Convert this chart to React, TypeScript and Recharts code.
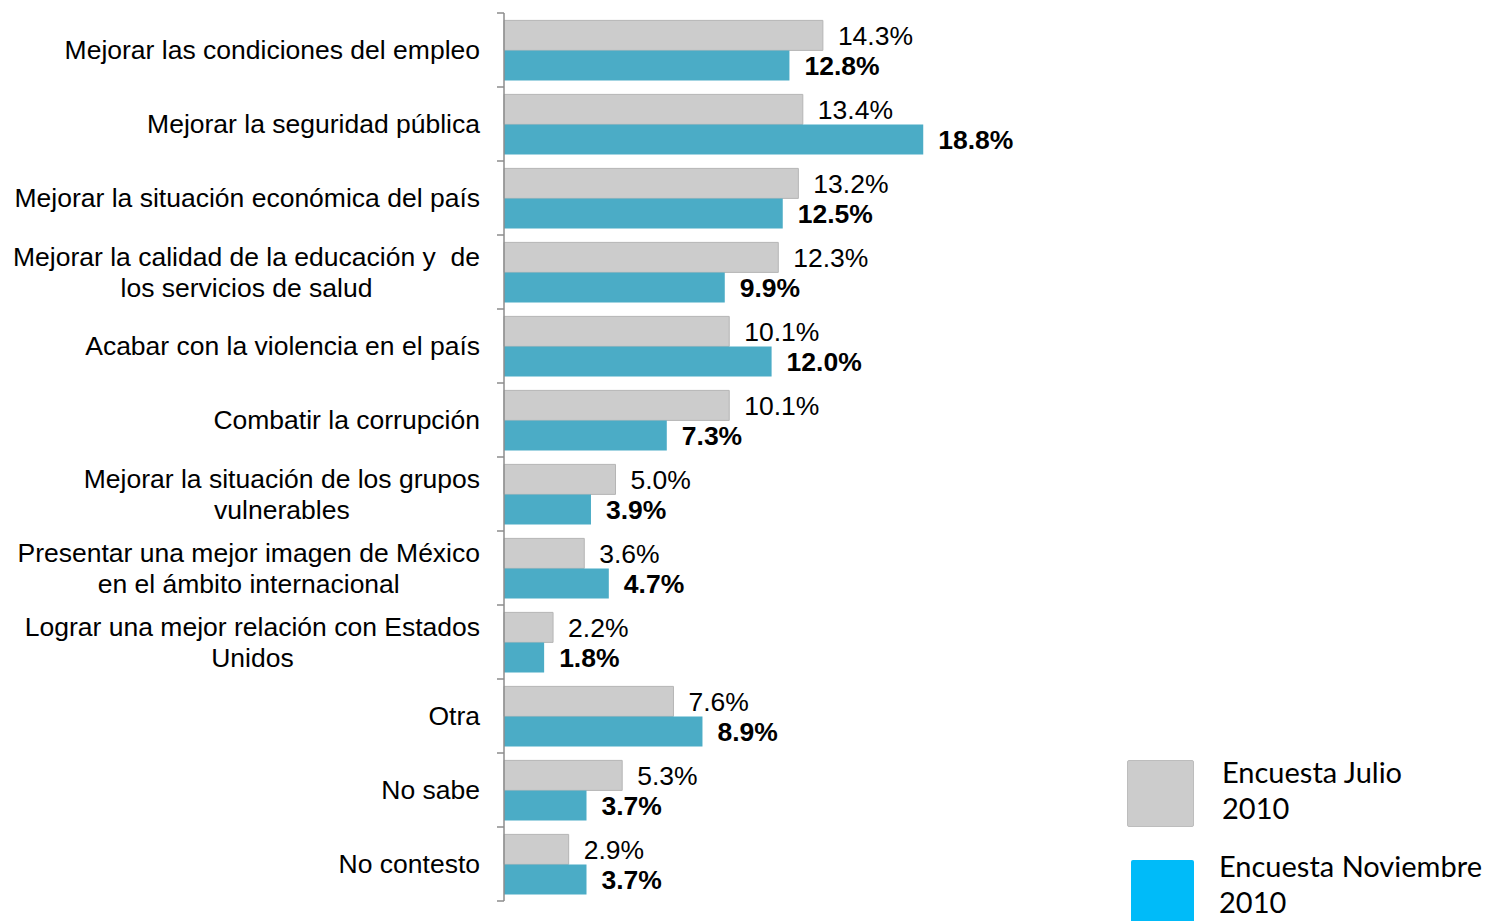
import React from "react";
import { BarChart, Bar, XAxis, YAxis, LabelList } from "recharts";

const categories = [
  "Mejorar las condiciones del empleo",
  "Mejorar la seguridad pública",
  "Mejorar la situación económica del país",
  "Mejorar la calidad de la educación y  de\nlos servicios de salud",
  "Acabar con la violencia en el país",
  "Combatir la corrupción",
  "Mejorar la situación de los grupos\nvulnerables",
  "Presentar una mejor imagen de México\nen el ámbito internacional",
  "Lograr una mejor relación con Estados\nUnidos",
  "Otra",
  "No sabe",
  "No contesto",
];
const julio = [14.3, 13.4, 13.2, 12.3, 10.1, 10.1, 5.0, 3.6, 2.2, 7.6, 5.3, 2.9];
const noviembre = [12.8, 18.8, 12.5, 9.9, 12.0, 7.3, 3.9, 4.7, 1.8, 8.9, 3.7, 3.7];
const legendLabels = ["Encuesta Julio", "Encuesta Noviembre"];

const data = categories.map((name, i) => ({
  name,
  julio: julio[i],
  noviembre: noviembre[i],
}));

const W = 1492;
const H = 921;
const TOP = 13;
const BOTTOM = 20;
const BAND = (H - TOP - BOTTOM) / categories.length;
const FS = 26.5;
const LABEL_FONT = `${FS}px "Liberation Sans", Arial, sans-serif`;

let ctx: CanvasRenderingContext2D | null = null;
function measure(s: string) {
  if (!ctx) ctx = document.createElement("canvas").getContext("2d");
  if (!ctx) return s.length * 13;
  ctx.font = LABEL_FONT;
  return ctx.measureText(s).width;
}

function CategoryTick(props: any) {
  const { x, y, payload, index } = props;
  const lines: string[] = String(payload.value).split("\n");
  const maxW = Math.max(...lines.map(measure));
  const cx = x - maxW / 2;
  const lh = 30.5;
  const y0 = y - ((lines.length - 1) * lh) / 2;
  const axisX = x + 24;
  return (
    <g>
      <line x1={axisX - 7} x2={axisX} y1={y - BAND / 2} y2={y - BAND / 2} stroke="#8c8c8c" strokeWidth={1.5} />
      {index === categories.length - 1 && (
        <line x1={axisX - 7} x2={axisX} y1={y + BAND / 2} y2={y + BAND / 2} stroke="#8c8c8c" strokeWidth={1.5} />
      )}
      {lines.map((l, i) => (
        <text
          key={i}
          x={lines.length > 1 ? cx : x}
          y={y0 + i * lh}
          dy="0.35em"
          textAnchor={lines.length > 1 ? "middle" : "end"}
          fontSize={FS}
          fill="#000"
          style={{ whiteSpace: "pre" }}
        >
          {l}
        </text>
      ))}
    </g>
  );
}

const pct = (v: any) => `${Number(v).toFixed(1)}%`;

function LegendBox() {
  const item = (color: string, border: string, label: string, top: number, left: number, sq: number, textTop: number) => (
    <div style={{ position: "absolute", top, left: 0, width: 370, height: 100 }}>
      <div
        style={{
          position: "absolute",
          left,
          top: 0,
          width: sq,
          height: 67,
          background: color,
          border,
          borderRadius: 2,
          boxSizing: "border-box",
        }}
      />
      <div
        style={{
          position: "absolute",
          left: left + (left === 0 ? 95 : 88),
          top: textTop,
          fontFamily: "Lato, 'Open Sans', sans-serif",
          fontSize: 29,
          lineHeight: "36px",
          color: "#000",
          whiteSpace: "nowrap",
        }}
      >
        {label}
        <br />
        2010
      </div>
    </div>
  );
  return (
    <div style={{ position: "absolute", left: 1127, top: 760, width: 370, height: 161 }}>
      {item("#CCCCCC", "1px solid #bdbdbd", legendLabels[0], 0, 0, 67, -6)}
      {item("#00BBF9", "none", legendLabels[1], 100, 4, 63, -12)}
    </div>
  );
}

export default function App() {
  return (
    <div style={{ position: "absolute", left: 0, top: 0, width: W, height: H, overflow: "hidden", background: "#fff", fontFamily: '"Liberation Sans", Arial, sans-serif' }}>
      <BarChart
        width={W}
        height={H}
        data={data}
        layout="vertical"
        margin={{ top: TOP, right: W - 504 - 446, bottom: BOTTOM, left: 0 }}
        barCategoryGap="10%"
        barGap={0}
      >
        <XAxis type="number" domain={[0, 20]} hide />
        <YAxis
          type="category"
          dataKey="name"
          width={504}
          axisLine={{ stroke: "#8c8c8c", strokeWidth: 1.5 }}
          tickLine={false}
          tickSize={7}
          tickMargin={17}
          tick={<CategoryTick />}
          interval={0}
        />
        <Bar dataKey="julio" name="Encuesta Julio 2010" fill="#CCCCCC" stroke="#b5b5b5" strokeWidth={1} isAnimationActive={false}>
          <LabelList
            dataKey="julio"
            position="right"
            offset={15}
            formatter={pct}
            style={{ fontSize: FS, fill: "#000" }}
          />
        </Bar>
        <Bar dataKey="noviembre" name="Encuesta Noviembre 2010" fill="#4BACC6" isAnimationActive={false}>
          <LabelList
            dataKey="noviembre"
            position="right"
            offset={15}
            formatter={pct}
            style={{ fontSize: FS, fill: "#000", fontWeight: "bold" }}
          />
        </Bar>
      </BarChart>
      <LegendBox />
    </div>
  );
}
